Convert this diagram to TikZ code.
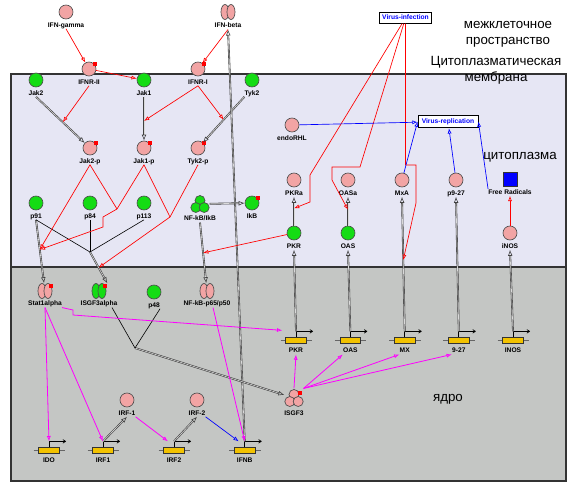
\documentclass[tikz,border=0pt]{standalone}
\usepackage{fontspec}
\setmainfont{Liberation Sans}
\usepackage{xcolor}
\usepackage{tikz}
\usetikzlibrary{arrows.meta,positioning,calc}
\definecolor{protpink}{HTML}{F2A4A4}
\definecolor{protgreen}{HTML}{14DC14}
\definecolor{cytofill}{HTML}{E6E6F4}
\definecolor{nucfill}{HTML}{C4C6C4}
\definecolor{geneyellow}{HTML}{F2C200}
\definecolor{exprmagenta}{HTML}{FF00FF}

% small red phosphate mark, top right of a shape
\newcommand{\phos}[1]{\fill[red] ($(#1.center)+(3.5,-7.5)$) rectangle ++(4,4);}
\newcommand{\dimer}[2]{%
  \draw[cplx_line, fill=#2] ($(#1.center)+(-3,0)$) ellipse (4 and 7.5);
  \draw[cplx_line, fill=#2] ($(#1.center)+(3,0)$) ellipse (4 and 7.5);}
\newcommand{\trimer}[2]{%
  \draw[cplx_line, fill=#2] ($(#1.center)+(0,-3.5)$) circle (5);
  \draw[cplx_line, fill=#2] ($(#1.center)+(-4.2,3.5)$) circle (5);
  \draw[cplx_line, fill=#2] ($(#1.center)+(4.2,3.5)$) circle (5);}

\begin{document}
\begin{tikzpicture}[x=0.75pt, y=-0.75pt,
    cyto_box/.style={draw=black!80, fill=cytofill, line width=0.8pt},
    nuc_box/.style={draw=black!80, fill=nucfill, line width=0.8pt},
    ru_txt/.style={font=\fontsize{10}{12}\selectfont, align=center, inner sep=0pt},
    prot/.style={circle, draw=black!70, line width=0.5pt, minimum size=10.5pt, inner sep=0pt},
    prot_pink/.style={prot, fill=protpink},
    prot_green/.style={prot, fill=protgreen},
    cplx/.style={inner sep=0pt, minimum width=12pt, minimum height=11.25pt},
    cplx3/.style={inner sep=0pt, minimum size=14pt},
    cplx_line/.style={draw=black!70, line width=0.5pt},
    plbl/.style={font=\fontsize{5}{6}\selectfont\bfseries, inner sep=0pt, text height=3.7pt, text depth=1pt, label distance=2pt},
    glbl/.style={plbl, label distance=3pt},
    clbl/.style={plbl, label distance=1.5pt},
    sig_box/.style={draw=black, fill=white, line width=0.6pt, font=\fontsize{5}{6}\selectfont\bfseries, text=blue, text height=3.7pt, text depth=1pt},
    rad_box/.style={draw=black!80, fill=blue, minimum size=10.5pt, inner sep=0pt},
    gene_box/.style={draw=black!80, fill=geneyellow, line width=0.5pt, minimum width=15.5pt, minimum height=4.2pt, inner sep=0pt},
    promoter/.style={draw=black!60, line width=0.6pt},
    tss/.style={draw=black, line width=0.5pt, -{To[length=2.5pt,width=3pt]}},
    act/.style={draw=red, line width=0.5pt, -{Latex[open,length=4pt,width=3pt]}},
    act_line/.style={draw=red, line width=0.5pt},
    repl/.style={draw=blue, line width=0.5pt, -{Latex[open,length=4pt,width=3pt]}},
    expr/.style={draw=exprmagenta, line width=0.6pt, -{Latex[open,length=4pt,width=3pt]}},
    conv/.style={draw=black!75, double=gray!30, double distance=0.45pt, line width=0.45pt, -{Latex[open,length=4.5pt,width=3.5pt]}},
    bind/.style={draw=black, line width=0.45pt}
]
    \useasboundingbox (0,0) rectangle (576,483);

    % compartments
    \draw[cyto_box] (11,74) rectangle (566,267);
    \draw[nuc_box] (11,267) rectangle (566,481);
    \node[ru_txt] (t_extra) at (508,34) {межклеточное\\пространство};
    \node[ru_txt] (t_membr) at (496,70) {Цитоплазматическая\\мембрана};
    \node[ru_txt] (t_cyto) at (520,157) {цитоплазма};
    \node[ru_txt] (t_nuc) at (448,399) {ядро};

    % outside the cell
    \node[prot_pink, label={[plbl,name=ifngL]below:IFN-gamma}] (ifng) at (66,12) {};
    \node[cplx, label={[clbl,label distance=2.2pt,name=ifnbL]below:IFN-beta}] (ifnb) at (228,12) {};
    \dimer{ifnb}{protpink}
    \node[sig_box, inner xsep=2.3pt, inner ysep=1.5pt] (vinf) at (405.5,18) {Virus-infection};

    % receptors
    \node[prot_pink, label={[plbl,name=ifnr2L]below:IFNR-II}] (ifnr2) at (89,69) {};
    \node[prot_pink, label={[plbl,name=ifnr1L]below:IFNR-I}] (ifnr1) at (198,69) {};
    \phos{ifnr2} \phos{ifnr1}

    % cytoplasm
    \node[prot_green, label={[plbl,name=jak2L]below:Jak2}] (jak2) at (36,80) {};
    \node[prot_green, label={[plbl,name=jak1L]below:Jak1}] (jak1) at (144,80) {};
    \node[prot_green, label={[plbl,name=tyk2L]below:Tyk2}] (tyk2) at (252,80) {};
    \node[prot_pink, label={[plbl,name=jak2pL]below:Jak2-p}] (jak2p) at (90,148) {};
    \node[prot_pink, label={[plbl,name=jak1pL]below:Jak1-p}] (jak1p) at (144,148) {};
    \node[prot_pink, label={[plbl,name=tyk2pL]below:Tyk2-p}] (tyk2p) at (198,148) {};
    \phos{jak2p} \phos{jak1p} \phos{tyk2p}
    \node[prot_pink, label={[plbl,name=endoL]below:endoRHL}] (endo) at (292,125) {};
    \node[sig_box, inner xsep=2.8pt, inner ysep=2.4pt] (vrep) at (448,121.5) {Virus-replication};
    \node[prot_pink, label={[plbl,name=pkraL]below:PKRa}] (pkra) at (294,180) {};
    \node[prot_pink, label={[plbl,name=oasaL]below:OASa}] (oasa) at (348,180) {};
    \node[prot_pink, label={[plbl,name=mxaL]below:MxA}] (mxa) at (402,180) {};
    \node[prot_pink, label={[plbl,name=p927L]below:p9-27}] (p927) at (456,180) {};
    \node[rad_box, label={[plbl,name=fradL]below:Free Radicals}] (frad) at (510,179) {};
    \node[prot_green, label={[plbl,name=p91L]below:p91}] (p91) at (36,203) {};
    \node[prot_green, label={[plbl,name=p84L]below:p84}] (p84) at (90,203) {};
    \node[prot_green, label={[plbl,name=p113L]below:p113}] (p113) at (144,203) {};
    \node[cplx3, label={[plbl,label distance=1.6pt,name=nfkbL]below:NF-kB/IkB}] (nfkb) at (200,204) {};
    \trimer{nfkb}{protgreen}
    \node[prot_green, label={[plbl,name=ikbL]below:IkB}] (ikb) at (252,203) {};
    \phos{ikb}
    \node[prot_green, label={[plbl,name=pkrL]below:PKR}] (pkr) at (294,233) {};
    \node[prot_green, label={[plbl,name=oasL]below:OAS}] (oas) at (348,233) {};
    \node[prot_pink, label={[plbl,name=inosL]below:iNOS}] (inos) at (510,233) {};

    % nucleus
    \node[cplx, label={[clbl,name=statL]below:Stat1alpha}] (stat) at (45,291) {};
    \dimer{stat}{protpink} \phos{stat}
    \node[cplx, label={[clbl,name=isgaL]below:ISGF3alpha}] (isga) at (99,291) {};
    \dimer{isga}{protgreen} \phos{isga}
    \node[prot_green, label={[plbl,name=p48L]below:p48}] (p48) at (154,292) {};
    \node[cplx, label={[clbl,name=nfpL]below:NF-kB-p65/p50}] (nfp) at (207,291) {};
    \dimer{nfp}{protpink}
    \node[cplx3, label={[plbl,label distance=2.3pt,name=isgf3L]below:ISGF3}] (isgf3) at (294,398) {};
    \trimer{isgf3}{protpink} \phos{isgf3}
    \node[prot_pink, label={[plbl,name=irf1L]below:IRF-1}] (irf1) at (127,400) {};
    \node[prot_pink, label={[plbl,name=irf2L]below:IRF-2}] (irf2) at (197,400) {};

    % genes
    \foreach \gn/\gx/\gy/\gt in {gPKR/296/340.5/PKR, gOAS/350.3/340.5/OAS, gMX/404.7/340.5/MX,
        g927/458.8/340.5/9-27, gINOS/513/340.5/INOS, gIDO/49/450.5/IDO,
        gIRF1/103/450.5/IRF1, gIRF2/174/450.5/IRF2, gIFNB/244.7/450.5/IFNB}{
        \draw[promoter] (\gx-15.5,\gy) -- (\gx+16,\gy);
        \node[gene_box, label={[glbl,name=\gn-lbl]below:\gt}] (\gn) at (\gx,\gy) {};
        \draw[tss] (\gn.north) -- ++(0,-6) coordinate (\gn-tss) -- ++(17,0);
    }

    % complex formation points
    \coordinate (isgJ) at (90,252);
    \coordinate (isgK) at (135,348);
    \coordinate (jakA) at (117,209);
    \coordinate (jakB) at (170,217);

    % conversions
    \draw[conv] (jak2L.south) -- coordinate[pos=.55] (rJak2) (jak2p);
    \draw[conv] (jak1L.south) -- coordinate[pos=.55] (rJak1) (jak1p);
    \draw[conv] (tyk2L.south west) -- coordinate[pos=.5] (rTyk2) (tyk2p);
    \draw[conv] (p91L.south) -- coordinate[pos=.47] (rStat) (stat);
    \draw[conv] (isgJ) -- coordinate[pos=.5] (rIsga) (isga.north east);
    \draw[conv] (nfkbL.south) -- coordinate[pos=.5] (rNFkB) (nfp);
    \draw[conv] (nfkb) -- (ikb);
    \draw[conv] (pkr) -- coordinate[pos=.6] (rPKRa) (pkraL.south);
    \draw[conv] (oas) -- coordinate[pos=.55] (rOASa) (oasaL.south);
    \draw[conv] (gMX-tss) -- coordinate[pos=.53] (rMxA) (mxaL.south);
    \draw[conv] (gPKR-tss) -- (pkrL.south);
    \draw[conv] (gOAS-tss) -- (oasL.south);
    \draw[conv] (g927-tss) -- (p927L.south);
    \draw[conv] (gINOS-tss) -- (inosL.south);
    \draw[conv] (gIRF1-tss) -- (irf1L.south);
    \draw[conv] (gIRF2-tss) -- (irf2L.south);
    \draw[conv] (gIFNB-tss) -- (ifnbL.south);
    \draw[conv] (isgK) -- (isgf3);

    % complex formation
    \draw[bind] (p91L.south) -- (isgJ);
    \draw[bind] (p84L.south) -- (isgJ);
    \draw[bind] (p113L.south) -- (isgJ);
    \draw[bind] ($(isgaL.south)+(13,0)$) -- (isgK);
    \draw[bind] (p48L.south east) -- (isgK);

    % receptor signalling
    \draw[act] (ifngL.south) -- (ifnr2);
    \draw[act] (ifnbL.south) -- (ifnr1);
    \draw[act] (ifnr2) -- (jak1);
    \draw[act] (ifnr2L.south) -- (rJak2);
    \draw[act] (ifnr1L.south) -- (rJak1);
    \draw[act] (ifnr1L.south) -- (rTyk2);
    \draw[act] (jak2pL.south) -- (rStat);
    \draw[act_line] (jak2pL.south) -- (jakA);
    \draw[act] (jak1pL.south) -- (jakA) -- (103,217) -- (103,227) -- (rStat);
    \draw[act] (jak1pL.south) -- (jakB) -- (rIsga);
    \draw[act_line] (tyk2pL.south) -- (jakB);
    \draw[act] (pkr) -- (rNFkB);

    % virus
    \draw[act] (vinf) -- (310,175) -- (310,202) -- (rPKRa);
    \draw[act] (vinf) -- (360,167) -| (332,180) -- (rOASa);
    \draw[act] (vinf) -- (405.5,165) -| (416,203) -- (rMxA);
    \draw[act] (inos) -- (fradL.south);
    \draw[repl] (endo) -- (vrep);
    \draw[repl] (mxa) -- (vrep.west);
    \draw[repl] (p927) -- (vrep);
    \draw[repl] (fradL.north west) -- (vrep.east);

    % transcription
    \draw[expr] (statL.south) -- (gIDO-tss);
    \draw[expr] (statL.south) -- (gIRF1-tss);
    \draw[expr] (statL.south east) -- (73,310) -- (73,315) -- ($(gPKR.north west)+(-3,-7)$);
    \draw[expr] ($(nfpL.south)+(6,0)$) -- (gIFNB-tss);
    \draw[expr] (irf1L.south east) -- ([xshift=-4.5pt]gIRF2-tss);
    \draw[repl] (irf2L.south east) -- ([xshift=-4.5pt]gIFNB-tss);
    \draw[expr] (isgf3.north) -- (gPKR-lbl.south);
    \draw[expr] (isgf3.north east) -- (gOAS-lbl.south west);
    \draw[expr] (isgf3.north east) -- (gMX-lbl.south west);
    \draw[expr] (isgf3.north east) -- (g927-lbl.south west);

\end{tikzpicture}
\end{document}
